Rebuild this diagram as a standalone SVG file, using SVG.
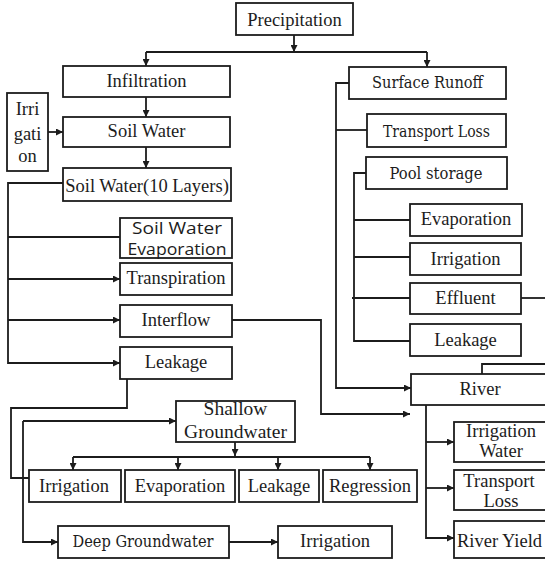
<svg xmlns="http://www.w3.org/2000/svg" width="545" height="563" viewBox="0 0 545 563">
<style>
.b{fill:#fff;stroke:#1c1c1c;stroke-width:1.8}
.t{font-family:"Liberation Serif","Times New Roman",serif;font-size:18.5px;fill:#1c1c1c;text-anchor:middle}
.c{font-family:"DejaVu Serif",serif;font-size:17px;fill:#1c1c1c;text-anchor:middle}
.s{font-family:"Open Sans",Lato,sans-serif;font-size:16.5px;fill:#1c1c1c;text-anchor:middle}
.l{fill:none;stroke:#1c1c1c;stroke-width:1.8}
.a{marker-end:url(#ah)}
</style>
<defs>
<marker id="ah" viewBox="0 0 10 10" refX="10" refY="5" markerWidth="7" markerHeight="7" markerUnits="userSpaceOnUse" orient="auto">
<path d="M0,0 L10,5 L0,10 z" fill="#1c1c1c"/>
</marker>
</defs>
<rect width="545" height="563" fill="#fff"/>
<g id="connectors">
<path class="l a" d="M294,35 V52"/>
<path class="l" d="M146,52 H427"/>
<path class="l a" d="M146,52 V66"/>
<path class="l a" d="M427,52 V67"/>
<path class="l a" d="M146,97 V117"/>
<path class="l a" d="M48,132 H63"/>
<path class="l a" d="M146,147 V168"/>
<path class="l a" d="M63,183 H8 V363 H120"/>
<path class="l" d="M8,237 H120"/>
<path class="l a" d="M8,279 H120"/>
<path class="l a" d="M8,320 H120"/>
<path class="l a" d="M232,320 H321 V414 H410"/>
<path class="l" d="M127,379 V408 H11 V478 H29"/>
<path class="l a" d="M23,421 H176"/>
<path class="l a" d="M23,421 V542 H58"/>
<path class="l a" d="M235,442 V456"/>
<path class="l" d="M73,457 H370"/>
<path class="l a" d="M73,457 V470"/>
<path class="l a" d="M178,457 V470"/>
<path class="l a" d="M278,457 V470"/>
<path class="l a" d="M370,457 V470"/>
<path class="l a" d="M229,542 H278"/>
<path class="l a" d="M349,83 H336 V388 H411"/>
<path class="l" d="M336,130 H367"/>
<path class="l" d="M366,173 H354 V341 H410"/>
<path class="l" d="M354,220 H410"/>
<path class="l" d="M354,257 H410"/>
<path class="l" d="M352,298 H410"/>
<path class="l" d="M521,298 H546"/>
<path class="l" d="M546,364 H482 V374"/>
<path class="l a" d="M426,405 V538 H454"/>
<path class="l a" d="M426,442 H454"/>
<path class="l a" d="M426,488 H454"/>
</g>
<g id="precipitation"><rect class="b" x="236" y="3" width="117" height="32"/><text class="t" x="294.5" y="26">Precipitation</text></g>
<g id="infiltration"><rect class="b" x="63" y="66" width="167" height="31"/><text class="t" x="146.5" y="87">Infiltration</text></g>
<g id="irrigation-input"><rect class="b" x="7" y="93" width="41" height="78"/><text class="t" x="27.5" y="115">Irri</text><text class="t" x="27.5" y="140">gati</text><text class="t" x="27.5" y="162">on</text></g>
<g id="soil-water"><rect class="b" x="63" y="117" width="167" height="30"/><text class="t" x="146.5" y="137">Soil Water</text></g>
<g id="soil-water-layers"><rect class="b" x="63" y="168" width="168" height="33"/><text class="t" x="147" y="192">Soil Water(10 Layers)</text></g>
<g id="soil-water-evaporation"><rect class="b" x="120" y="218" width="112" height="40"/><text class="s" x="177" y="234" textLength="90" lengthAdjust="spacingAndGlyphs">Soil Water</text><text class="s" x="177" y="255" textLength="99" lengthAdjust="spacingAndGlyphs">Evaporation</text></g>
<g id="transpiration"><rect class="b" x="120" y="263" width="112" height="32"/><text class="t" x="176" y="284">Transpiration</text></g>
<g id="interflow"><rect class="b" x="120" y="305" width="112" height="32"/><text class="t" x="176" y="326">Interflow</text></g>
<g id="leakage-soil"><rect class="b" x="120" y="347" width="112" height="32"/><text class="t" x="176" y="368">Leakage</text></g>
<g id="surface-runoff"><rect class="b" x="349" y="67" width="157" height="32"/><text class="c" x="427.5" y="88" textLength="111" lengthAdjust="spacingAndGlyphs">Surface Runoff</text></g>
<g id="transport-loss-surface"><rect class="b" x="367" y="114" width="139" height="33"/><text class="c" x="436.5" y="137" textLength="107" lengthAdjust="spacingAndGlyphs">Transport Loss</text></g>
<g id="pool-storage"><rect class="b" x="366" y="157" width="141" height="32"/><text class="c" x="436" y="179" textLength="93" lengthAdjust="spacingAndGlyphs">Pool storage</text></g>
<g id="pool-evaporation"><rect class="b" x="410" y="204" width="112" height="32"/><text class="t" x="466" y="225">Evaporation</text></g>
<g id="pool-irrigation"><rect class="b" x="410" y="243" width="111" height="32"/><text class="t" x="465.5" y="265">Irrigation</text></g>
<g id="effluent"><rect class="b" x="410" y="283" width="111" height="31"/><text class="t" x="465.5" y="304">Effluent</text></g>
<g id="pool-leakage"><rect class="b" x="410" y="324" width="111" height="32"/><text class="t" x="465.5" y="346">Leakage</text></g>
<g id="river"><rect class="b" x="411" y="374" width="140" height="31"/><text class="t" x="480" y="395">River</text></g>
<g id="irrigation-water"><rect class="b" x="454" y="422" width="95" height="40"/><text class="t" x="501" y="437">Irrigation</text><text class="t" x="501" y="457">Water</text></g>
<g id="transport-loss-river"><rect class="b" x="454" y="470" width="95" height="40"/><text class="t" x="499" y="487">Transport</text><text class="t" x="501" y="507">Loss</text></g>
<g id="river-yield"><rect class="b" x="454" y="521" width="95" height="37"/><text class="t" x="499.5" y="547">River Yield</text></g>
<g id="shallow-groundwater"><rect class="b" x="176" y="401" width="119" height="41"/><text class="t" x="235.5" y="415" style="font-size:19.5px">Shallow</text><text class="t" x="235.5" y="438" style="font-size:19.5px">Groundwater</text></g>
<g id="sg-irrigation"><rect class="b" x="29" y="470" width="92" height="32"/><text class="t" x="74" y="492">Irrigation</text></g>
<g id="sg-evaporation"><rect class="b" x="125" y="470" width="110" height="32"/><text class="t" x="180" y="492">Evaporation</text></g>
<g id="sg-leakage"><rect class="b" x="239" y="470" width="80" height="32"/><text class="t" x="279" y="492">Leakage</text></g>
<g id="regression"><rect class="b" x="323" y="470" width="94" height="32"/><text class="t" x="370" y="492">Regression</text></g>
<g id="deep-groundwater"><rect class="b" x="58" y="526" width="171" height="32"/><text class="c" x="143" y="547" textLength="141" lengthAdjust="spacingAndGlyphs">Deep Groundwater</text></g>
<g id="dg-irrigation"><rect class="b" x="278" y="526" width="114" height="32"/><text class="t" x="335" y="547">Irrigation</text></g>
</svg>
